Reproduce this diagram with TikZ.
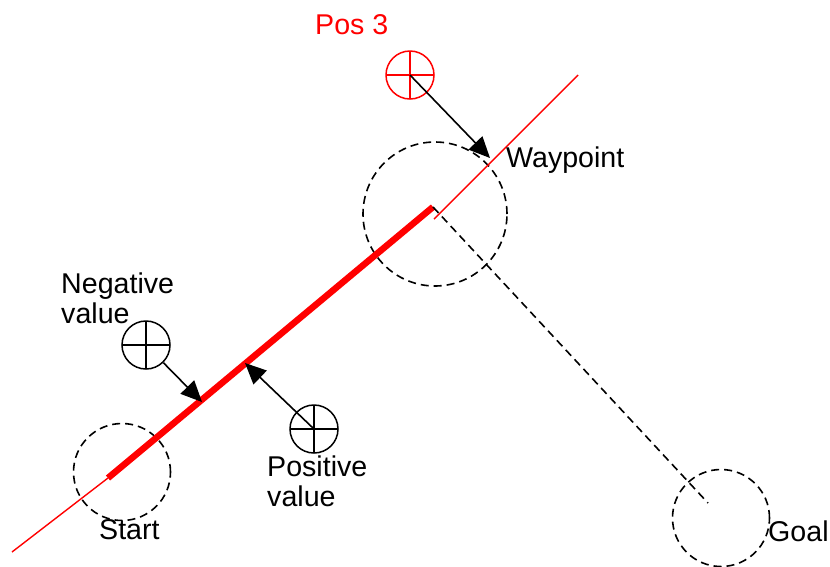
\documentclass[tikz,border=0pt]{standalone}
\usepackage{fontspec}
\setmainfont{Liberation Sans}
\usetikzlibrary{arrows.meta}
\begin{document}
\begin{tikzpicture}[x=1pt,y=-1pt,
  lbl/.style={inner sep=0pt, font=\fontsize{28.6}{30}\selectfont, align=left},
  zone/.style={circle, draw=black, dashed, dash pattern=on 8pt off 5pt, line width=1.6pt, inner sep=0pt},
  cross/.style={circle, draw=#1, line width=1.5pt, inner sep=0pt, minimum size=48pt,
    path picture={\draw[#1, line width=1.5pt] (path picture bounding box.north) -- (path picture bounding box.south)
      (path picture bounding box.west) -- (path picture bounding box.east);}},
  thinred/.style={draw=red, line width=1.4pt},
  thickred/.style={draw=red, line width=6.5pt},
  push/.style={draw=black, line width=1.6pt, -{Triangle[length=21pt,width=19pt]}},
  guide/.style={draw=black, dashed, dash pattern=on 8pt off 5pt, line width=1.6pt}]
\useasboundingbox (0,0) rectangle (830,566);

% zones
\node[zone, minimum size=144pt] (wp) at (435,214) {};
\node[zone, minimum size=97pt] (start) at (122,472) {};
\node[zone, minimum size=97pt] (goal) at (721,518) {};

% path lines
\coordinate (lowend) at (12,552);
\coordinate (thickA) at (108,478);
\coordinate (thickB) at (433,207);
\coordinate (thinA) at (434,219);
\coordinate (thinB) at (578,75);
\coordinate (goalc) at (708,503);
\draw[thinred] (lowend) -- (thickA);
\draw[thinred] (thinA) -- (thinB);
\draw[thickred] (thickA) -- (thickB);
\draw[guide] (thickB) -- (goalc);

% crosshair positions
\node[cross=red] (p3) at (410,75) {};
\node[cross=black] (neg) at (146,345) {};
\node[cross=black] (pos) at (314,429) {};

% arrows
\coordinate (tip3) at (490,158);
\coordinate (tipN) at (202,402);
\coordinate (tipP) at (245,363);
\draw[push] (p3.center) -- (tip3);
\draw[push] (neg) -- (tipN);
\draw[push] (pos.center) -- (tipP);

% labels
\node[lbl, text=red, anchor=base west] (lp3) at (315,34) {Pos 3};
\node[lbl, anchor=base west] (lwp) at (506,167) {Waypoint};
\node[lbl, anchor=north west] (lneg) at (61,272.6) {Negative\\value};
\node[lbl, anchor=north west] (lpos) at (267,455.6) {Positive\\value};
\node[lbl, anchor=base west] (lst) at (99,539) {Start};
\node[lbl, anchor=base west] (lgo) at (768,541) {Goal};
\end{tikzpicture}
\end{document}
